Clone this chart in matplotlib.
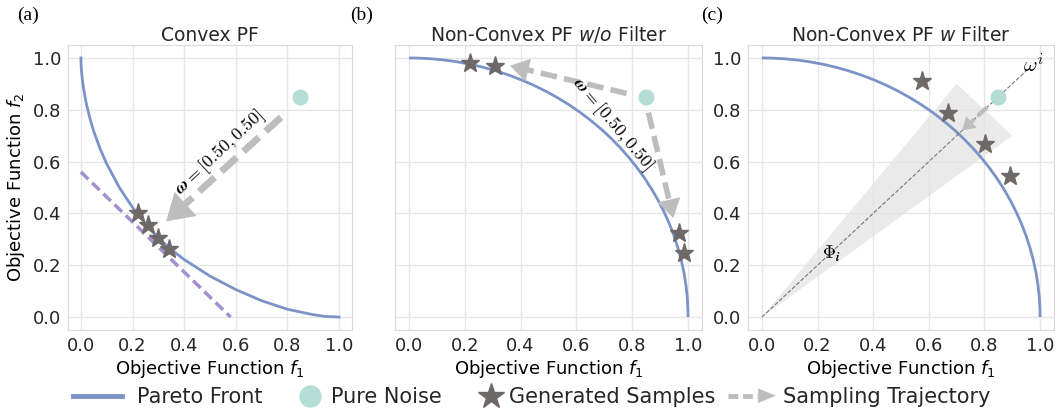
import numpy as np
import matplotlib
matplotlib.use("Agg")
import matplotlib.pyplot as plt
from matplotlib.patches import Arc, Polygon
from matplotlib.lines import Line2D
from matplotlib.legend_handler import HandlerBase

# %%
# Datos
# (a) frente convexo
convex_f1 = [0.0, 0.0005, 0.002, 0.005, 0.01, 0.02, 0.035, 0.05, 0.075, 0.1, 0.15, 0.2,
             0.25, 0.3, 0.35, 0.4, 0.5, 0.6, 0.7, 0.8, 0.9, 0.95, 1.0]
convex_f2 = [1.0, 0.979, 0.954, 0.922, 0.884, 0.828, 0.766, 0.716, 0.648, 0.591, 0.498, 0.423,
             0.360, 0.305, 0.260, 0.222, 0.158, 0.106, 0.063, 0.030, 0.009, 0.002, 0.0]
tangent_f1 = [0.0, 0.58]
tangent_f2 = [0.56, 0.0]
samples_a_f1 = [0.22, 0.26, 0.30, 0.34]
samples_a_f2 = [0.40, 0.356, 0.307, 0.262]
traj_a = [(0.775, 0.771), (0.33, 0.369)]

# (b) y (c) frente no convexo (cuarto de círculo, radio 1)
pf_radius = 1.0
noise = (0.85, 0.85)
samples_b_f1 = [0.22, 0.31, 0.969, 0.986]
samples_b_f2 = [0.98, 0.97, 0.326, 0.246]
traj_b = [[(0.78, 0.863), (0.362, 0.97)], [(0.858, 0.789), (0.947, 0.382)]]

samples_c_f1 = [0.576, 0.668, 0.803, 0.892]
samples_c_f2 = [0.91, 0.787, 0.667, 0.544]
cone_f1 = [0.0, 0.7, 0.9]
cone_f2 = [0.0, 0.9, 0.7]
pref_f1 = [0.0, 0.95]
pref_f2 = [0.0, 0.95]
traj_c = [(0.81, 0.81), (0.72, 0.72)]

ticks = [0.0, 0.2, 0.4, 0.6, 0.8, 1.0]

# %%
# Estilos
c_pf = '#7b93c6'
c_noise = '#b3ddd5'
c_star = '#6f6868'
c_traj = '#bdbdbd'
c_tan = '#a48fcf'
c_text = '#262626'

plt.rcParams['font.family'] = ['DejaVu Sans']
plt.rcParams['axes.edgecolor'] = '#d9d9d9'
plt.rcParams['text.color'] = c_text
plt.rcParams['xtick.color'] = c_text
plt.rcParams['ytick.color'] = c_text


def draw_traj(ax, start, tip, lw, ms, back):
    # cuerpo discontinuo + cabeza sólida
    sx, sy = start
    tx, ty = tip
    bx = tx + (sx - tx) * back
    by = ty + (sy - ty) * back
    ax.plot([sx, bx], [sy, by], color=c_traj, lw=lw, dashes=(3, 1.3), solid_capstyle='butt',
            dash_capstyle='butt', zorder=3)
    ax.annotate('', xy=tip, xytext=(bx, by),
                arrowprops=dict(arrowstyle='-|>,head_length=0.45,head_width=0.28', color=c_traj,
                                lw=0, mutation_scale=ms, shrinkA=0, shrinkB=0), zorder=3)


def style_axes(ax, show_y=True):
    ax.set_xlim(-0.05, 1.05)
    ax.set_ylim(-0.05, 1.05)
    ax.set_xticks(ticks)
    ax.set_yticks(ticks)
    ax.grid(True, color='#e6e6e6', lw=1)
    ax.set_axisbelow(True)
    ax.tick_params(length=0, labelsize=13, pad=5)
    if not show_y:
        ax.set_yticklabels([])
    ax.set_xlabel('Objective Function $f_1$', fontsize=13, labelpad=2)


fig = plt.figure(figsize=(10.58, 4.11), dpi=100)
W, H = 1058, 411
ax_a = fig.add_axes([68 / W, 1 - 330 / H, 284 / W, 285 / H])
ax_b = fig.add_axes([395 / W, 1 - 330 / H, 307 / W, 285 / H])
ax_c = fig.add_axes([748 / W, 1 - 330 / H, 306 / W, 285 / H])

# %%
# (a) Convex PF
style_axes(ax_a)
ax_a.set_ylabel('Objective Function $f_2$', fontsize=13, labelpad=4)
ax_a.set_title('Convex PF', fontsize=13.5, pad=2)
ax_a.plot(convex_f1, convex_f2, color=c_pf, lw=2, zorder=2)
ax_a.plot(tangent_f1, tangent_f2, color=c_tan, lw=2.5, dashes=(3, 1.5), zorder=2)
ax_a.plot(*noise, 'o', color=c_noise, ms=10.5, zorder=4)
draw_traj(ax_a, traj_a[0], traj_a[1], lw=5, ms=42, back=0.16)
ax_a.plot(samples_a_f1, samples_a_f2, '*', color=c_star, ms=14, mec=c_star, ls='none', zorder=5)
ax_a.text(0.54, 0.635, r'$\boldsymbol{\omega} = [0.50, 0.50]$', math_fontfamily='cm',
          fontsize=13, rotation=43, ha='center', va='center', color='black')

# %%
# (b) Non-Convex PF w/o Filter
style_axes(ax_b, show_y=False)
ax_b.set_title('Non-Convex PF $w/o$ Filter', fontsize=13.5, pad=2)
ax_b.add_patch(Arc((0, 0), 2 * pf_radius, 2 * pf_radius, theta1=0, theta2=90, color=c_pf, lw=2, zorder=2))
ax_b.plot(*noise, 'o', color=c_noise, ms=10.5, zorder=4)
for st, tp in traj_b:
    draw_traj(ax_b, st, tp, lw=4, ms=30, back=0.13)
ax_b.plot(samples_b_f1, samples_b_f2, '*', color=c_star, ms=14, mec=c_star, ls='none', zorder=5)
ax_b.text(0.73, 0.745, r'$\boldsymbol{\omega} = [0.50, 0.50]$', math_fontfamily='cm',
          fontsize=13, rotation=-50, ha='center', va='center', color='black')

# %%
# (c) Non-Convex PF w Filter
style_axes(ax_c)
ax_c.set_title('Non-Convex PF $w$ Filter', fontsize=13.5, pad=2)
ax_c.add_patch(Polygon(list(zip(cone_f1, cone_f2)), closed=True, color='#e3e3e3', alpha=0.75, lw=0, zorder=1))
ax_c.add_patch(Arc((0, 0), 2 * pf_radius, 2 * pf_radius, theta1=0, theta2=90, color=c_pf, lw=2, zorder=2))
ax_c.plot(pref_f1, pref_f2, color='#777777', lw=0.8, ls='--', zorder=2)
ax_c.plot(*noise, 'o', color=c_noise, ms=10.5, zorder=4)
draw_traj(ax_c, traj_c[0], traj_c[1], lw=3, ms=20, back=0.3)
ax_c.plot(samples_c_f1, samples_c_f2, '*', color=c_star, ms=14, mec=c_star, ls='none', zorder=5)
ax_c.text(0.975, 0.975, r'$\boldsymbol{\omega^i}$', math_fontfamily='cm', fontsize=15,
          ha='center', va='center', color='black')
ax_c.text(0.25, 0.245, r'$\mathbf{\Phi}_{\boldsymbol{i}}$', math_fontfamily='cm', fontsize=13,
          ha='center', va='center', color='black')

# %%
# Etiquetas de panel
for xp, lab in [(28, '(a)'), (362, '(b)'), (712, '(c)')]:
    fig.text(xp / W, 1 - 15 / H, lab, family='Liberation Serif', fontsize=14, ha='center',
             va='center', color='black')


# %%
# Leyenda: manejadores propios para imitar el espaciado original
class HandlerPF(HandlerBase):
    def create_artists(self, legend, orig_handle, xdescent, ydescent, width, height, fontsize, trans):
        y = height / 2 - ydescent
        x1 = -xdescent + width
        line = Line2D([x1 - 2.75 * fontsize, x1 - 0.4 * fontsize], [y, y], color=c_pf, lw=3.5,
                      transform=trans)
        return [line]


class HandlerRightMarker(HandlerBase):
    def __init__(self, offset, **kw):
        super().__init__(**kw)
        self.offset = offset

    def create_artists(self, legend, orig_handle, xdescent, ydescent, width, height, fontsize, trans):
        y = height / 2 - ydescent
        x1 = -xdescent + width
        m = Line2D([x1 - self.offset * fontsize], [y], marker=orig_handle.get_marker(),
                   color=orig_handle.get_color(), ms=orig_handle.get_markersize(), ls='none',
                   transform=trans)
        return [m]


class HandlerTraj(HandlerBase):
    def create_artists(self, legend, orig_handle, xdescent, ydescent, width, height, fontsize, trans):
        y = height / 2 - ydescent
        x1 = -xdescent + width
        x0 = x1 - 2.3 * fontsize
        xm = x1 - 0.85 * fontsize
        line = Line2D([x0, xm], [y, y], color=c_traj, lw=3.5, dashes=(2.0, 1.0), transform=trans)
        head = Polygon([[xm, y - height * 0.5], [x1, y], [xm, y + height * 0.5]], closed=True,
                       color=c_traj, lw=0, transform=trans)
        return [line, head]


h_pf = Line2D([], [])
h_noise = Line2D([], [], marker='o', color=c_noise, ms=15, ls='none')
h_star = Line2D([], [], marker='*', color=c_star, ms=19, ls='none')
h_traj = Line2D([], [])
fig.legend([h_pf, h_noise, h_star, h_traj],
           ['Pareto Front', 'Pure Noise', 'Generated Samples', 'Sampling Trajectory'],
           handler_map={h_pf: HandlerPF(), h_noise: HandlerRightMarker(0.62),
                        h_star: HandlerRightMarker(0.5), h_traj: HandlerTraj()},
           loc='center', bbox_to_anchor=(0.507, 1 - 397 / H), ncol=4, frameon=False,
           fontsize=15, handlelength=2.3, handletextpad=0.35, columnspacing=0.6)

fig.savefig('out.png', dpi=100)
